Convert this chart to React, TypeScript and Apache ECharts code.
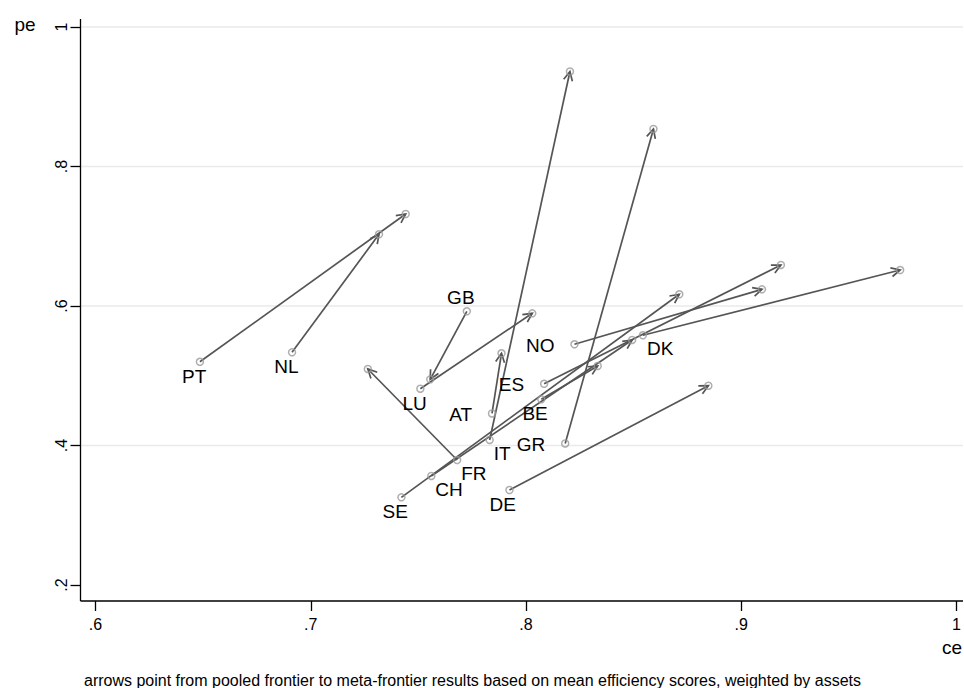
import React, { useEffect, useRef } from "react";
import * as echarts from "echarts";

// ---- data ----
const countries = ["PT", "NL", "GB", "LU", "AT", "ES", "BE", "IT", "GR", "FR", "CH", "SE", "DE", "NO", "DK"];
// pooled frontier results (arrow start)
const pooledCe = [0.6485, 0.6913, 0.7725, 0.7509, 0.7842, 0.8084, 0.8071, 0.7831, 0.8182, 0.768, 0.756, 0.7421, 0.7923, 0.8225, 0.8543];
const pooledPe = [0.52, 0.5336, 0.5924, 0.4814, 0.4459, 0.4885, 0.4662, 0.4079, 0.4029, 0.3792, 0.3563, 0.3257, 0.3362, 0.5451, 0.558];
// meta-frontier results (arrow end)
const metaCe = [0.7441, 0.7317, 0.7555, 0.8029, 0.7886, 0.9184, 0.8333, 0.8204, 0.8592, 0.7265, 0.8493, 0.8712, 0.8847, 0.9096, 0.9738];
const metaPe = [0.7319, 0.7028, 0.4949, 0.5895, 0.5322, 0.6588, 0.514, 0.9362, 0.8538, 0.5097, 0.5513, 0.6168, 0.4857, 0.6239, 0.6516];

const xTicks = [0.6, 0.7, 0.8, 0.9, 1];
const xTickLabels = [".6", ".7", ".8", ".9", "1"];
const yTicks = [0.2, 0.4, 0.6, 0.8, 1];
const yTickLabels = [".2", ".4", ".6", ".8", "1"];
const gridValues = [0.4, 0.6, 0.8, 1];

const xTitle = "ce";
const yTitle = "pe";
const noteText =
  "arrows point from pooled frontier to meta-frontier results based on mean efficiency scores, weighted by assets";

// label placement (Stata clock positions) – style, not data
const labelClock: Record<string, number> = {
  PT: 7, NL: 7, GB: 11, LU: 7, AT: 9, ES: 9, BE: 7, IT: 5,
  GR: 9, FR: 5, CH: 5, SE: 7, DE: 7, NO: 9, DK: 5,
};

const FONT = '"Liberation Sans", Arial, Helvetica, sans-serif';
const ARROW = "#555555";
const RING = "#9a9a9a";

function clockStyle(c: number): { dx: number; dy: number; align: string } {
  switch (c) {
    case 5:
      return { dx: 4, dy: 13.5, align: "left" };
    case 7:
      return { dx: 6.5, dy: 14.5, align: "right" };
    case 9:
      return { dx: -20, dy: 1, align: "right" };
    case 11:
      return { dx: -6, dy: -14, align: "center" };
    default:
      return { dx: 0, dy: 14, align: "center" };
  }
}

export default function App() {
  const ref = useRef<HTMLDivElement>(null);

  useEffect(() => {
    if (!ref.current) return;
    const chart = echarts.init(ref.current, undefined, { renderer: "svg" });

    const arrowData = countries.map((c, i) => [pooledCe[i], pooledPe[i], metaCe[i], metaPe[i]]);
    const startData = countries.map((c, i) => [pooledCe[i], pooledPe[i]]);
    const endData = countries.map((c, i) => [metaCe[i], metaPe[i]]);

    const X_OFFSET = 16;
    const Y_OFFSET = 15;

    chart.setOption({
      animation: false,
      backgroundColor: "#ffffff",
      textStyle: { fontFamily: FONT },
      grid: { left: 95.5, right: 6.5, top: 27, bottom: 103 },
      xAxis: {
        type: "value",
        min: 0.6,
        max: 1,
        interval: 0.1,
        offset: X_OFFSET,
        axisLine: { show: false },
        axisTick: { show: true, length: 10, lineStyle: { color: "#000", width: 1.3 } },
        axisLabel: {
          color: "#000",
          fontSize: 16,
          fontFamily: FONT,
          margin: 15,
          formatter: (v: number) => {
            const i = xTicks.findIndex((t) => Math.abs(t - v) < 1e-6);
            return i >= 0 ? xTickLabels[i] : "";
          },
        },
        splitLine: { show: false },
      },
      yAxis: {
        type: "value",
        min: 0.2,
        max: 1,
        interval: 0.2,
        offset: Y_OFFSET,
        axisLine: { show: false },
        axisTick: { show: true, length: 10, lineStyle: { color: "#000", width: 1.3 } },
        axisLabel: {
          color: "#000",
          fontSize: 16,
          fontFamily: FONT,
          rotate: 90,
          margin: 11,
          formatter: (v: number) => {
            const i = yTicks.findIndex((t) => Math.abs(t - v) < 1e-6);
            return i >= 0 ? yTickLabels[i] : "";
          },
        },
        splitLine: { show: false },
      },
      series: [
        {
          type: "custom",
          name: "arrows",
          z: 3,
          data: arrowData,
          encode: { x: [0, 2], y: [1, 3] },
          renderItem: (params: any, api: any) => {
            const p1 = api.coord([api.value(0), api.value(1)]);
            const p2 = api.coord([api.value(2), api.value(3)]);
            const ang = Math.atan2(p2[1] - p1[1], p2[0] - p1[0]);
            const L = 10;
            const a = 0.46;
            const b1 = [p2[0] - L * Math.cos(ang - a), p2[1] - L * Math.sin(ang - a)];
            const b2 = [p2[0] - L * Math.cos(ang + a), p2[1] - L * Math.sin(ang + a)];
            return {
              type: "group",
              children: [
                {
                  type: "line",
                  shape: { x1: p1[0], y1: p1[1], x2: p2[0], y2: p2[1] },
                  style: { stroke: ARROW, lineWidth: 1.7 },
                },
                {
                  type: "polyline",
                  shape: { points: [b1, p2, b2] },
                  style: { stroke: ARROW, lineWidth: 1.7, fill: null },
                },
              ],
            };
          },
        },
        {
          type: "scatter",
          name: "pooled",
          z: 4,
          data: startData,
          symbol: "circle",
          symbolSize: 7,
          itemStyle: { color: "rgba(0,0,0,0)", borderColor: RING, borderWidth: 1.5 },
          emphasis: { disabled: true },
        },
        {
          type: "scatter",
          name: "meta",
          z: 4,
          data: endData,
          symbol: "circle",
          symbolSize: 7,
          itemStyle: { color: "rgba(0,0,0,0)", borderColor: RING, borderWidth: 1.5 },
          emphasis: { disabled: true },
        },
        {
          type: "custom",
          name: "labels",
          z: 5,
          data: startData,
          encode: { x: 0, y: 1 },
          renderItem: (params: any, api: any) => {
            const p = api.coord([api.value(0), api.value(1)]);
            const name = countries[params.dataIndex];
            const s = clockStyle(labelClock[name]);
            return {
              type: "text",
              x: p[0] + s.dx,
              y: p[1] + s.dy,
              style: {
                text: name,
                fill: "#000",
                fontSize: 19,
                fontFamily: FONT,
                align: s.align,
                verticalAlign: "middle",
              },
            };
          },
        },
      ],
    });

    // axis lines & grid lines placed through the chart's own scales
    const px = (v: number) => chart.convertToPixel({ xAxisIndex: 0 }, v) as number;
    const py = (v: number) => chart.convertToPixel({ yAxisIndex: 0 }, v) as number;
    const axisX = px(0.6) - Y_OFFSET;
    const axisY = py(0.2) + X_OFFSET;
    const topY = py(1) - 8;
    const rightX = 963;

    const graphics: any[] = [];
    gridValues.forEach((v) => {
      const y = py(v);
      graphics.push({
        type: "line",
        z: 0,
        shape: { x1: axisX, y1: y, x2: rightX, y2: y },
        style: { stroke: "#eaeaea", lineWidth: 1.5 },
        silent: true,
      });
    });
    graphics.push({
      type: "line",
      z: 10,
      shape: { x1: axisX, y1: topY, x2: axisX, y2: axisY },
      style: { stroke: "#000", lineWidth: 1.3 },
      silent: true,
    });
    graphics.push({
      type: "line",
      z: 10,
      shape: { x1: axisX, y1: axisY, x2: rightX, y2: axisY },
      style: { stroke: "#000", lineWidth: 1.3 },
      silent: true,
    });
    graphics.push({
      type: "text",
      x: 25,
      y: 24,
      style: { text: yTitle, fill: "#000", fontSize: 19, fontFamily: FONT, align: "center", verticalAlign: "middle" },
    });
    graphics.push({
      type: "text",
      x: 962,
      y: 647,
      style: { text: xTitle, fill: "#000", fontSize: 19, fontFamily: FONT, align: "right", verticalAlign: "middle" },
    });
    graphics.push({
      type: "text",
      x: 84,
      y: 680,
      style: { text: noteText, fill: "#000", fontSize: 16, fontFamily: FONT, align: "left", verticalAlign: "middle" },
    });

    chart.setOption({ graphic: graphics });

    return () => {
      chart.dispose();
    };
  }, []);

  return (
    <div
      ref={ref}
      style={{ position: "fixed", left: 0, top: 0, width: 964, height: 688, background: "#fff" }}
    />
  );
}
